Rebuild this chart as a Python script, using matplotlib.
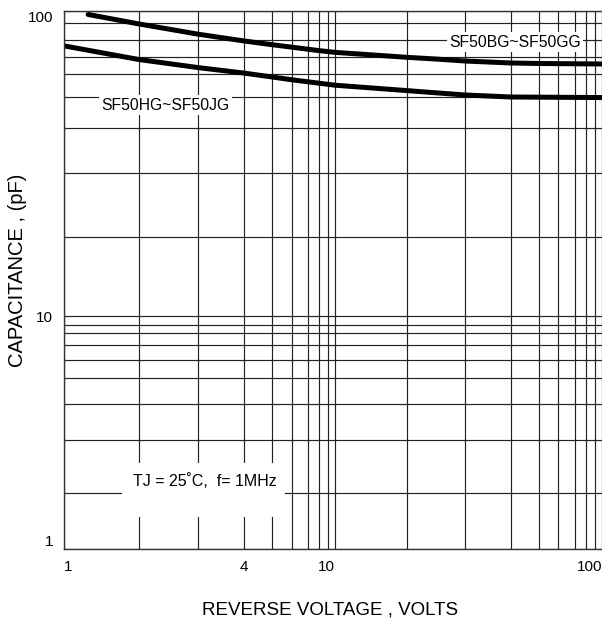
import numpy as np
import matplotlib
matplotlib.use("Agg")
import matplotlib.pyplot as plt
from matplotlib.patches import Rectangle
from matplotlib.ticker import NullFormatter

plt.rcParams['font.family'] = ['Liberation Sans', 'DejaVu Sans']

# ---- data ----
volt_bg = [1.25, 2, 3, 4, 5, 6, 7, 8, 10, 20, 25, 30, 40, 50, 100]
cap_bg = [97, 89.4, 83.3, 79.4, 77.1, 75.6, 74.4, 73.6, 72.6, 69.8, 68.6, 67.5, 66.3, 66.0, 65.7]

volt_hg = [1, 2, 3, 4, 5, 6, 7, 10, 20, 25, 30, 40, 100]
cap_hg = [76.4, 68.4, 63.6, 60.5, 58.6, 57.3, 56.4, 54.9, 52.6, 51.6, 50.8, 50.0, 49.8]

x_tick_vals = [1, 4, 10, 100]
x_tick_labels = ['1', '4', '10', '100']
y_tick_vals = [1, 10, 100]
y_tick_labels = ['1', '10', '100']
grid_vals = [1, 2, 3, 4, 5, 6, 7, 8, 9, 10, 20, 30, 40, 50, 60, 70, 80, 90, 100]

label_bg = 'SF50BG~SF50GG'
label_hg = 'SF50HG~SF50JG'
cond_text = 'TJ = 25˚C,  f= 1MHz'
xlabel = 'REVERSE VOLTAGE , VOLTS'
ylabel = 'CAPACITANCE , (pF)'

# ---- hand-drawn (non-uniform) log grid of the original chart ----
W, H = 602, 622
knot_vals = np.log10([0.1] + grid_vals + [1000])
x_knot_pos = np.array([64 - 271, 64, 139, 198, 244, 272, 292, 308, 319, 328, 335,
                       407, 465, 511, 539, 558, 575, 586, 595, 602, 602 + 267], float)
y_knot_px = np.array([549 + 233, 549, 493, 440, 404, 378, 360, 345, 333, 325, 316,
                      237, 173, 128, 97, 74, 57, 40, 23, 11, 11 - 305], float)
y_knot_pos = H - y_knot_px


def make_scale(pos):
    def fwd(v):
        v = np.clip(np.asarray(v, float), 1e-6, None)
        return np.interp(np.log10(v), knot_vals, pos)

    def inv(t):
        return 10 ** np.interp(np.asarray(t, float), pos, knot_vals)
    return fwd, inv


fig = plt.figure(figsize=(W / 100, H / 100), dpi=100)
ax = fig.add_axes([64 / W, (H - 549) / H, (602 - 64) / W, (549 - 11) / H])

ax.set_xscale('function', functions=make_scale(x_knot_pos))
ax.set_yscale('function', functions=make_scale(y_knot_pos))
ax.set_xlim(1, 100)
ax.set_ylim(1, 100)

ax.set_xticks(x_tick_vals)
ax.set_xticklabels(x_tick_labels)
ax.set_xticks(grid_vals, minor=True)
ax.set_yticks(y_tick_vals)
ax.set_yticklabels(y_tick_labels)
ax.set_yticks(grid_vals, minor=True)
ax.xaxis.set_minor_formatter(NullFormatter())
ax.yaxis.set_minor_formatter(NullFormatter())
ax.tick_params(which='both', length=0, labelsize=11, pad=8, colors='black')

xl = ax.get_xticklabels()
xl[0].set_ha('left')
xl[2].set_ha('right')
xl[3].set_ha('right')
yl = ax.get_yticklabels()
yl[0].set_va('bottom')
yl[2].set_va('top')

ax.set_axisbelow(True)
ax.grid(which='both', color='#222222', linewidth=0.85)

for s in ['left', 'bottom', 'top']:
    ax.spines[s].set_color('#333333')
    ax.spines[s].set_linewidth(1.0)
ax.spines['right'].set_visible(False)

ax.plot(volt_bg, cap_bg, color='black', lw=3.6, solid_capstyle='round',
        solid_joinstyle='round', zorder=2)
ax.plot(volt_hg, cap_hg, color='black', lw=3.6, solid_capstyle='round',
        solid_joinstyle='round', zorder=2)

box = dict(boxstyle='square,pad=0.15', fc='white', ec='none')
ax.text(0.838, 0.942, label_bg, transform=ax.transAxes, ha='center', va='center',
        fontsize=11.3, bbox=box, zorder=3)
ax.text(0.188, 0.825, label_hg, transform=ax.transAxes, ha='center', va='center',
        fontsize=11.3, bbox=box, zorder=3)

ax.add_patch(Rectangle((0.108, 0.0595), 0.303, 0.1004, transform=ax.transAxes,
                       fc='white', ec='none', zorder=1))
ax.text(0.261, 0.126, cond_text, transform=ax.transAxes, ha='center', va='center',
        fontsize=11.5, zorder=3)

ax.set_xlabel(xlabel, fontsize=13.5, va='center')
ax.xaxis.set_label_coords((330 - 64) / 538, (549 - 610) / 538)
ax.set_ylabel(ylabel, fontsize=14.5, va='center')
ax.yaxis.set_label_coords((18 - 64) / 538, (549 - 270) / 538)

fig.savefig('out.png', dpi=100)
